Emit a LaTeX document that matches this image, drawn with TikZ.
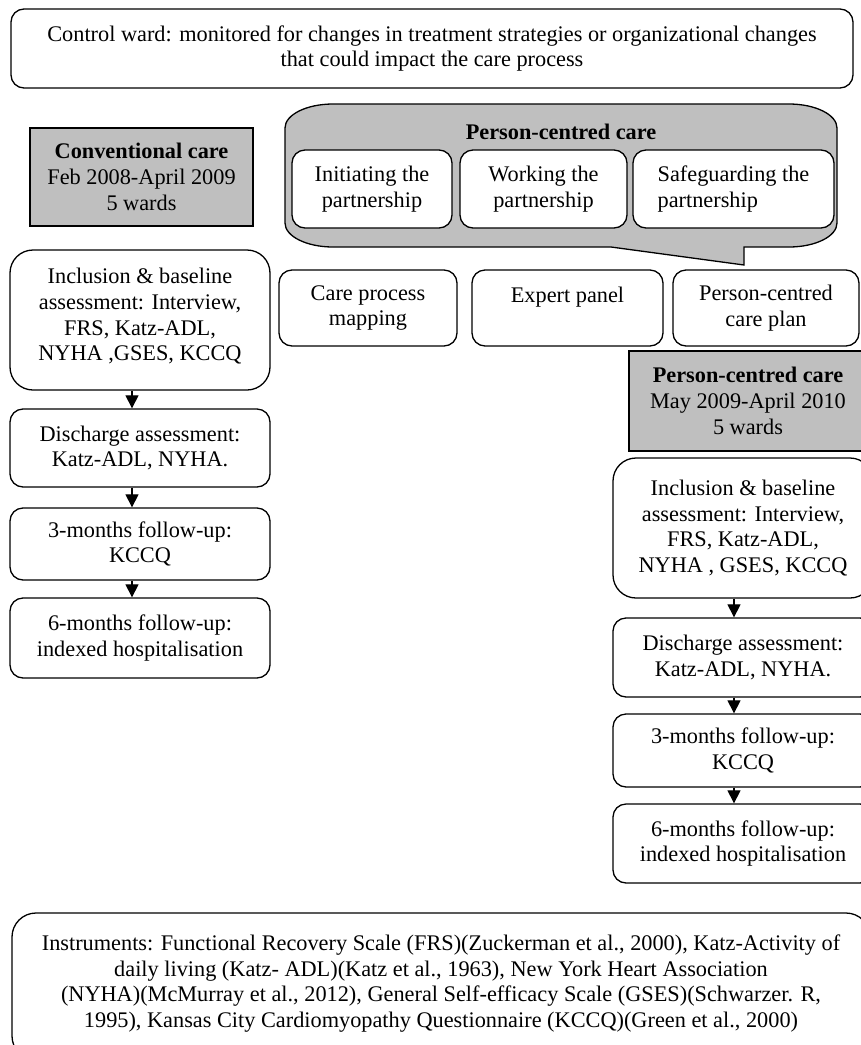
\documentclass[tikz,border=0pt]{standalone}
\usepackage{fontspec}
\setmainfont{Liberation Serif}
\usetikzlibrary{arrows.meta}
\definecolor{grayfill}{RGB}{191,191,191}
\begin{document}
\begin{tikzpicture}[x=1pt,y=-1pt,
  txt/.style={font=\fontsize{22.3}{25.7}\selectfont, align=center, inner sep=0pt},
  rbox/.style={txt, draw, line width=1.3pt, fill=white, rounded corners=13pt},
  gbox/.style={txt, draw, line width=1.3pt, fill=grayfill},
  arr/.style={line width=1.1pt, -{Triangle[length=13pt,width=13pt]}},
]
\useasboundingbox (0,0) rectangle (861,1045);

% top box
\node[rbox, minimum width=842pt, minimum height=79pt] (ctrl) at (432,48.5)
  {Control ward: monitored for changes in treatment strategies or organizational changes\\that could impact the care process};

% conventional care
\node[gbox, minimum width=223pt, minimum height=98pt] (conv) at (141.5,177)
  {\textbf{Conventional care}\\Feb 2008-April 2009\\5 wards};

% speech bubble
\draw[line width=1.3pt, fill=grayfill]
  (333,104) -- (789,104)
  .. controls (815.5,104) and (837,114.7) .. (837,128)
  -- (837,223)
  .. controls (837,236.3) and (815.5,247) .. (789,247)
  -- (744,247) -- (744,265) -- (611,247) -- (333,247)
  .. controls (306.5,247) and (285,236.3) .. (285,223)
  -- (285,128)
  .. controls (285,114.7) and (306.5,104) .. (333,104) -- cycle;
\node[txt] (pcc) at (561,132) {\textbf{Person-centred care}};
\node[rbox, minimum width=160pt, minimum height=78pt] (init) at (372,189) {Initiating the\\partnership};
\node[rbox, minimum width=167pt, minimum height=78pt] (work) at (543.5,189) {Working the\\partnership};
\node[rbox, minimum width=201pt, minimum height=78pt, align=left] (safe) at (733.5,189) {Safeguarding the\\partnership};

% row of three
\node[rbox, minimum width=178pt, minimum height=76pt] (map) at (368,308) {Care process\\mapping};
\node[rbox, minimum width=191pt, minimum height=76pt] (exp) at (567.5,308) {Expert panel\\\phantom{E}};
\node[rbox, minimum width=186pt, minimum height=76pt] (plan) at (766,308) {Person-centred\\care plan};

% right gray
\node[gbox, minimum width=238pt, minimum height=100pt] (pgray) at (748,401)
  {\textbf{Person-centred care}\\May 2009-April 2010\\5 wards};

% left column
\node[rbox, rounded corners=23pt, minimum width=260pt, minimum height=140pt] (li) at (140,320)
  {Inclusion \& baseline\\assessment: Interview,\\FRS, Katz-ADL,\\NYHA ,GSES, KCCQ\\[-15pt]\mbox{}};
\node[rbox, minimum width=260pt, minimum height=78pt] (ld) at (140,448) {Discharge assessment:\\Katz-ADL, NYHA.};
\node[rbox, minimum width=260pt, minimum height=72pt] (l3) at (140,544) {3-months follow-up:\\KCCQ};
\node[rbox, minimum width=260pt, minimum height=80pt] (l6) at (140,638) {6-months follow-up:\\indexed hospitalisation};

% right column
\node[rbox, rounded corners=23pt, minimum width=260pt, minimum height=140pt] (ri) at (743,528)
  {Inclusion \& baseline\\assessment: Interview,\\FRS, Katz-ADL,\\NYHA , GSES, KCCQ};
\node[rbox, minimum width=260pt, minimum height=79pt] (rd) at (743,657.5) {Discharge assessment:\\Katz-ADL, NYHA.};
\node[rbox, minimum width=260pt, minimum height=73pt] (r3) at (743,750.5) {3-months follow-up:\\KCCQ};
\node[rbox, minimum width=260pt, minimum height=79pt] (r6) at (743,843.5) {6-months follow-up:\\indexed hospitalisation};

% instruments
\node[rbox, rounded corners=24pt, minimum width=858pt, minimum height=147pt] (inst) at (441,986.5)
  {Instruments: Functional Recovery Scale (FRS)(Zuckerman et al., 2000), Katz-Activity of\\daily living (Katz- ADL)(Katz et al., 1963), New York Heart Association\\(NYHA)(McMurray et al., 2012), General Self-efficacy Scale (GSES)(Schwarzer. R,\\1995), Kansas City Cardiomyopathy Questionnaire (KCCQ)(Green et al., 2000)\\[-15pt]\mbox{}};

% arrows
\draw[arr] ([xshift=-8pt]li.south) -- ([xshift=-8pt]ld.north);
\draw[arr] ([xshift=-8pt]ld.south) -- ([xshift=-8pt]l3.north);
\draw[arr] ([xshift=-8pt]l3.south) -- ([xshift=-8pt]l6.north);
\draw[arr] ([xshift=-9pt]ri.south) -- ([xshift=-9pt]rd.north);
\draw[arr] ([xshift=-9pt]rd.south) -- ([xshift=-9pt]r3.north);
\draw[arr] ([xshift=-9pt]r3.south) -- ([xshift=-9pt]r6.north);
\end{tikzpicture}
\end{document}
